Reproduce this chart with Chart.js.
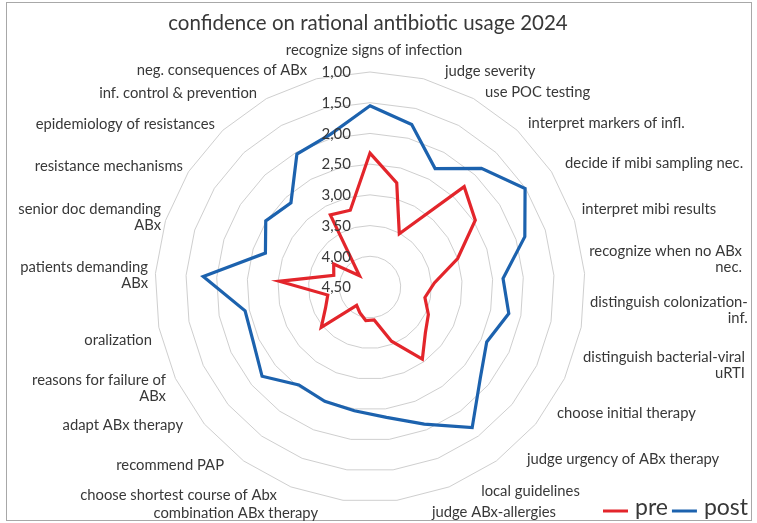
<!DOCTYPE html>
<html><head><meta charset="utf-8">
<script src="https://cdn.jsdelivr.net/npm/chart.js@4/dist/chart.umd.min.js"></script>
<style>html,body{margin:0;padding:0;background:#fff;} canvas{display:block;}</style>
</head><body>
<canvas id="c" width="757" height="523"></canvas>
<script>
const TITLE = 'confidence on rational antibiotic usage 2024';
const CATEGORIES = [
  'recognize signs of infection', 'judge severity', 'use POC testing', 'interpret markers of infl.',
  'decide if mibi sampling nec.', 'interpret mibi results', ['recognize when no ABx', 'nec.'],
  ['distinguish colonization-', 'inf.'], ['distinguish bacterial-viral', 'uRTI'], 'choose initial therapy',
  'judge urgency of ABx therapy', 'local guidelines', 'judge ABx-allergies', 'combination ABx therapy',
  'choose shortest course of Abx', 'recommend PAP', 'adapt ABx therapy', ['reasons for failure of', 'ABx'],
  'oralization', ['patients demanding', 'ABx'], ['senior doc demanding', 'ABx'], 'resistance mechanisms',
  'epidemiology of resistances', 'inf. control & prevention', 'neg. consequences of ABx'
];
const SERIES_NAMES = ['pre', 'post'];
const PRE  = [2.32, 2.75, 3.51, 2.26, 2.47, 3.00, 3.45, 3.59, 3.45, 3.33, 3.05, 3.55, 3.96, 3.95, 4.05, 4.13, 3.47, 3.70, 3.80, 3.02, 3.88, 3.80, 4.25, 3.16, 3.21];
const POST = [1.55, 1.77, 2.30, 1.85, 1.51, 1.85, 2.33, 2.20, 2.40, 2.17, 1.67, 2.10, 2.36, 2.47, 2.50, 2.53, 2.22, 2.40, 2.43, 1.78, 2.71, 2.49, 2.62, 2.03, 1.93];
const SCALE_MIN = 1, SCALE_MAX = 4.5, SCALE_STEP = 0.5;

// layout: label offsets (dx, dy) from the outer ring vertex of each axis
const LABEL_NUDGE = [
  [4,-22],[21.5,-7.7],[11.4,-6.1],[10.8,-7.3],[13.5,-8.8],[7.2,-11.6],[4.7,-14],[8.8,-17.3],[18.5,-13],
  [21.3,-11],[30.6,-2],[32,4],[35,11.7],[-25,12.7],[-14,8],[-19.6,4],[-21.3,1],[-9.5,10],[-6.8,12.7],
  [-7.4,2],[-4.5,-3.6],[-5.5,-5.8],[-7.8,-6.3],[-9.4,-5.6],[-9.5,-8.7]
];
const COLORS = ['#e3252b', '#1c62ae'];
const TEXT = '#383838';
const FONT = 'Lato, "Open Sans", sans-serif';

const deco = {
  id: 'deco',
  beforeDraw(chart) {
    const ctx = chart.ctx;
    ctx.save();
    ctx.fillStyle = '#fff';
    ctx.fillRect(0, 0, chart.width, chart.height);
    ctx.strokeStyle = '#a8a8a8';
    ctx.lineWidth = 1;
    ctx.strokeRect(6.5, 2.5, 745, 518);
    ctx.restore();
  },
  afterDraw(chart) {
    const ctx = chart.ctx;
    const s = chart.scales.r;
    ctx.save();
    // title
    ctx.fillStyle = TEXT;
    ctx.font = '20.5px ' + FONT;
    ctx.textAlign = 'center';
    ctx.textBaseline = 'middle';
    ctx.fillText(TITLE, 368, 23);
    // tick labels
    ctx.font = '15px ' + FONT;
    ctx.textAlign = 'right';
    s.ticks.forEach(t => {
      const y = s.yCenter - s.getDistanceFromCenterForValue(t.value);
      ctx.fillText(t.value.toFixed(2).replace('.', ','), s.xCenter - 19, y + 0.5);
    });
    // point labels
    ctx.font = '14.8px ' + FONT;
    const lh = 16;
    CATEGORIES.forEach((lab, i) => {
      const lines = Array.isArray(lab) ? lab : [lab];
      const p = s.getPointPosition(i, s.drawingArea);
      const ax = p.x + LABEL_NUDGE[i][0];
      const cy = p.y + LABEL_NUDGE[i][1];
      const W = Math.max(...lines.map(l => ctx.measureText(l).width));
      let left;
      if (Math.abs(p.x - s.xCenter) < 2) left = ax - W / 2;
      else if (p.x > s.xCenter) left = ax;
      else left = ax - W;
      ctx.textAlign = 'right';
      ctx.textBaseline = 'middle';
      lines.forEach((l, k) => {
        ctx.fillText(l, left + W, cy - (lines.length - 1) * lh / 2 + k * lh);
      });
    });
    // legend
    ctx.font = '23px ' + FONT;
    ctx.textAlign = 'left';
    ctx.textBaseline = 'middle';
    let x = 603;
    chart.data.datasets.forEach(ds => {
      ctx.strokeStyle = ds.borderColor;
      ctx.lineWidth = 3;
      ctx.beginPath();
      ctx.moveTo(x, 511); ctx.lineTo(x + 25, 511);
      ctx.stroke();
      ctx.fillStyle = TEXT;
      ctx.fillText(ds.label, x + 32, 508);
      x += 32 + ctx.measureText(ds.label).width + 4;
    });
    ctx.restore();
  }
};

new Chart(document.getElementById('c'), {
  type: 'radar',
  data: {
    labels: CATEGORIES,
    datasets: [
      { label: SERIES_NAMES[0], data: PRE, borderColor: COLORS[0], borderWidth: 3.2, pointRadius: 0, fill: false, tension: 0 },
      { label: SERIES_NAMES[1], data: POST, borderColor: COLORS[1], borderWidth: 3.2, pointRadius: 0, fill: false, tension: 0 }
    ]
  },
  options: {
    responsive: false,
    animation: false,
    layout: { padding: { left: 155, right: 172, top: 72, bottom: 21 } },
    plugins: { legend: { display: false }, title: { display: false }, tooltip: { enabled: false } },
    scales: {
      r: {
        min: SCALE_MIN, max: SCALE_MAX, reverse: true,
        ticks: { stepSize: SCALE_STEP, display: false },
        grid: { color: '#cfcfcf', lineWidth: 1, circular: false },
        angleLines: { display: false },
        pointLabels: { display: false }
      }
    }
  },
  plugins: [deco]
});
</script>
</body></html>
